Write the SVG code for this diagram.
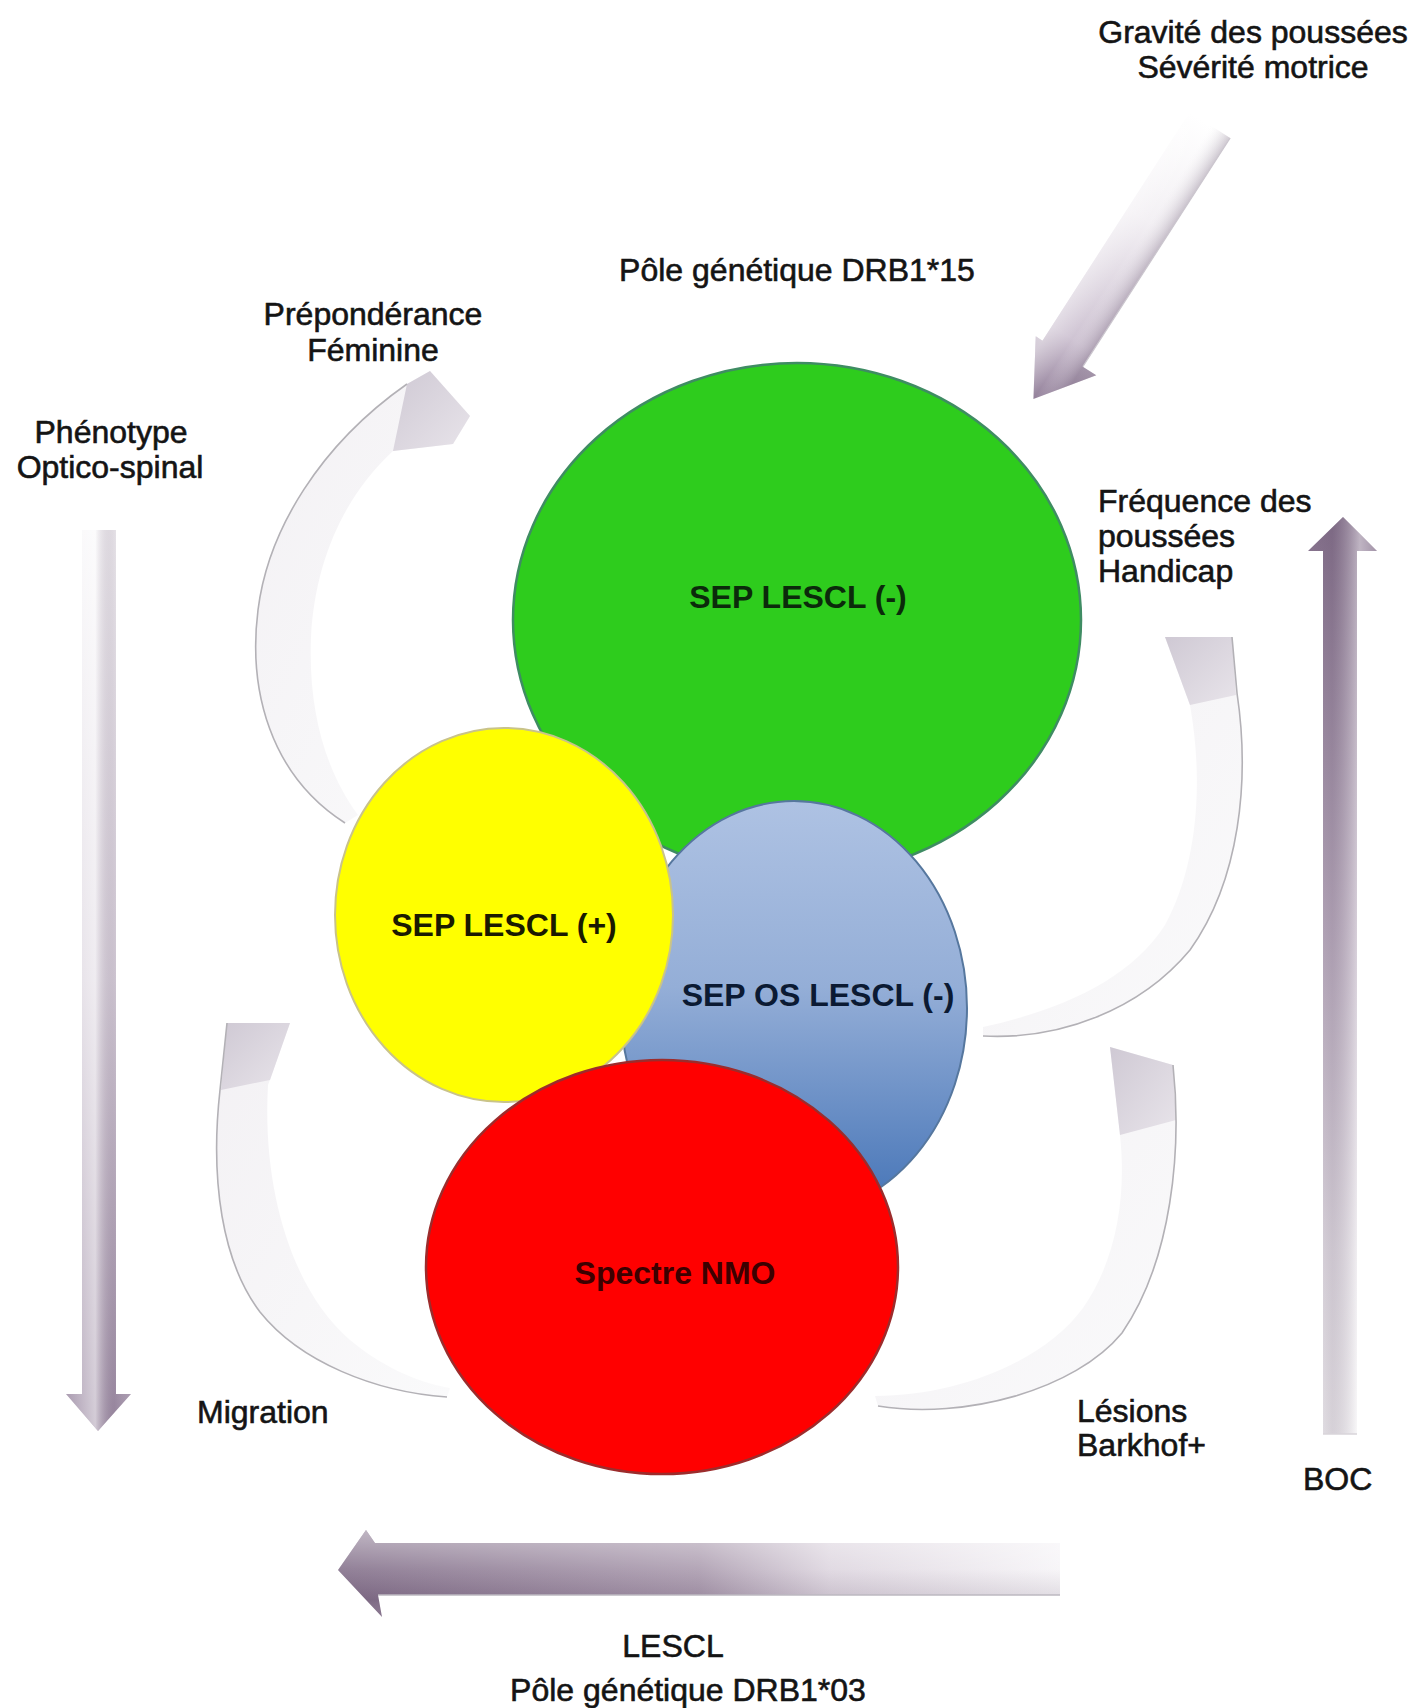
<svg xmlns="http://www.w3.org/2000/svg" width="1428" height="1708" viewBox="0 0 1428 1708">
<defs>
  <linearGradient id="gBlue" x1="0" y1="0" x2="0" y2="1">
    <stop offset="0" stop-color="#aec2e3"/>
    <stop offset="0.45" stop-color="#94aed7"/>
    <stop offset="1" stop-color="#4473b6"/>
  </linearGradient>
  <linearGradient id="gDiag" gradientUnits="userSpaceOnUse" x1="0" y1="0" x2="326" y2="0">
    <stop offset="0" stop-color="#ffffff"/>
    <stop offset="0.35" stop-color="#f3f0f4"/>
    <stop offset="0.78" stop-color="#cfc4d3"/>
    <stop offset="1" stop-color="#93809a"/>
  </linearGradient>
  <linearGradient id="gDiagX" gradientUnits="userSpaceOnUse" x1="0" y1="-24" x2="0" y2="24">
    <stop offset="0" stop-color="#5e4a66" stop-opacity="0.3"/>
    <stop offset="0.5" stop-color="#ffffff" stop-opacity="0"/>
    <stop offset="1" stop-color="#ffffff" stop-opacity="0.4"/>
  </linearGradient>
  <linearGradient id="gDown" gradientUnits="userSpaceOnUse" x1="0" y1="530" x2="0" y2="1431">
    <stop offset="0" stop-color="#f8f7f9"/>
    <stop offset="0.5" stop-color="#dcd5df"/>
    <stop offset="1" stop-color="#9d8ca4"/>
  </linearGradient>
  <linearGradient id="gDownX" gradientUnits="userSpaceOnUse" x1="66" y1="0" x2="131" y2="0">
    <stop offset="0" stop-color="#ffffff" stop-opacity="0.1"/>
    <stop offset="0.45" stop-color="#ffffff" stop-opacity="0.55"/>
    <stop offset="0.75" stop-color="#6a5570" stop-opacity="0.15"/>
    <stop offset="1" stop-color="#ffffff" stop-opacity="0.1"/>
  </linearGradient>
  <linearGradient id="gUp" gradientUnits="userSpaceOnUse" x1="0" y1="517" x2="0" y2="1434">
    <stop offset="0" stop-color="#87738e"/>
    <stop offset="0.45" stop-color="#c4b7c8"/>
    <stop offset="0.8" stop-color="#f1eef2"/>
    <stop offset="1" stop-color="#ffffff"/>
  </linearGradient>
  <linearGradient id="gUpX" gradientUnits="userSpaceOnUse" x1="1308" y1="0" x2="1377" y2="0">
    <stop offset="0" stop-color="#5c4863" stop-opacity="0.1"/>
    <stop offset="0.35" stop-color="#5c4863" stop-opacity="0.25"/>
    <stop offset="0.75" stop-color="#ffffff" stop-opacity="0.45"/>
    <stop offset="1" stop-color="#ffffff" stop-opacity="0.2"/>
  </linearGradient>
  <linearGradient id="gLeft" gradientUnits="userSpaceOnUse" x1="338" y1="0" x2="1060" y2="0">
    <stop offset="0" stop-color="#7f6b86"/>
    <stop offset="0.5" stop-color="#a797ab"/>
    <stop offset="0.68" stop-color="#dcd4de"/>
    <stop offset="1" stop-color="#f6f4f7"/>
  </linearGradient>
  <linearGradient id="gLeftY" gradientUnits="userSpaceOnUse" x1="0" y1="1530" x2="0" y2="1617">
    <stop offset="0" stop-color="#ffffff" stop-opacity="0.5"/>
    <stop offset="0.45" stop-color="#ffffff" stop-opacity="0.15"/>
    <stop offset="0.8" stop-color="#5c4863" stop-opacity="0.15"/>
    <stop offset="1" stop-color="#ffffff" stop-opacity="0"/>
  </linearGradient>
  <linearGradient id="gCurve" x1="0" y1="0" x2="1" y2="1">
    <stop offset="0" stop-color="#f3f1f4"/>
    <stop offset="1" stop-color="#fafafb"/>
  </linearGradient>
  <linearGradient id="gHead" x1="0" y1="0" x2="1" y2="1">
    <stop offset="0" stop-color="#cfc9d4"/>
    <stop offset="1" stop-color="#e8e4ea"/>
  </linearGradient>
</defs>
<style>
  .lbl { font-family: "Liberation Sans", Arial, sans-serif; font-size: 32px; fill: #141414; stroke: #141414; stroke-width: 0.6px; }
  .mid { text-anchor: middle; }
  .nt { font-family: "Liberation Sans", Arial, sans-serif; font-size: 32px; font-weight: bold; text-anchor: middle; }
  .edge { stroke: #b3b1b6; stroke-width: 1.6; fill: none; }
  .body { fill: url(#gCurve); }
  .head { fill: url(#gHead); }
</style>
<rect width="1428" height="1708" fill="#ffffff"/>

<g id="connectors">
  <g id="arrow-diagonal" transform="translate(1210,125) rotate(122.8)">
    <polygon points="0,-24 272,-24 272,-40 326,0 272,32 272,24 0,24" fill="url(#gDiag)"/>
    <polygon points="0,-24 272,-24 272,-40 326,0 272,32 272,24 0,24" fill="url(#gDiagX)"/>
    <line x1="0" y1="-24" x2="272" y2="-24" stroke="#cbc6ce" stroke-width="1.2"/>
  </g>
  <g id="arrow-phenotype">
    <polygon points="82,530 116,530 116,1394 131,1394 98,1431 66,1394 82,1394" fill="url(#gDown)"/>
    <polygon points="82,530 116,530 116,1394 131,1394 98,1431 66,1394 82,1394" fill="url(#gDownX)"/>
  </g>
  <g id="arrow-boc">
    <polygon points="1323,1434 1323,551 1308,551 1343,517 1377,551 1357,551 1357,1434" fill="url(#gUp)"/>
    <polygon points="1323,1434 1323,551 1308,551 1343,517 1377,551 1357,551 1357,1434" fill="url(#gUpX)"/>
    <line x1="1323" y1="1434" x2="1357" y2="1434" stroke="#d8d4da" stroke-width="1.5"/>
  </g>
  <g id="arrow-lescl">
    <polygon points="1060,1543 375,1543 366,1530 338,1570 382,1617 378,1595 1060,1595" fill="url(#gLeft)"/>
    <polygon points="1060,1543 375,1543 366,1530 338,1570 382,1617 378,1595 1060,1595" fill="url(#gLeftY)"/>
    <line x1="378" y1="1595" x2="1060" y2="1595" stroke="#bdb8c0" stroke-width="1.5"/>
  </g>
  <g id="arrow-preponderance">
    <path class="body" d="M 345 823 C 270 775, 248 690, 258 610 C 268 530, 320 445, 407 384 L 430 371 L 470 416 L 453 444 L 393 451 C 345 495, 315 560, 311 637 C 308 710, 325 770, 358 815 Z"/>
    <polygon class="head" points="407,384 430,371 470,416 453,444 393,451"/>
    <path class="edge" d="M 345 823 C 270 775, 248 690, 258 610 C 268 530, 320 445, 407 384"/>
  </g>
  <g id="arrow-frequence">
    <path class="body" d="M 1165 637 L 1232 637 L 1237 693 C 1250 780, 1240 880, 1190 950 C 1140 1010, 1060 1040, 983 1036 L 983 1027 C 1060 1010, 1130 980, 1165 925 C 1195 870, 1205 790, 1190 705 Z"/>
    <polygon class="head" points="1165,637 1232,637 1236,695 1190,705"/>
    <path class="edge" d="M 1232 637 L 1237 693 C 1250 780, 1240 880, 1190 950 C 1140 1010, 1060 1040, 983 1036"/>
  </g>
  <g id="arrow-lesions">
    <path class="body" d="M 1110 1047 L 1173 1065 C 1182 1150, 1172 1260, 1122 1333 C 1075 1390, 965 1420, 878 1406 L 875 1396 C 960 1396, 1045 1360, 1083 1308 C 1115 1262, 1127 1200, 1120 1135 Z"/>
    <polygon class="head" points="1110,1047 1173,1065 1176,1120 1120,1135"/>
    <path class="edge" d="M 1173 1065 C 1182 1150, 1172 1260, 1122 1333 C 1075 1390, 965 1420, 878 1406"/>
  </g>
  <g id="arrow-migration">
    <path class="body" d="M 227 1023 L 290 1023 L 268 1085 C 262 1190, 292 1290, 350 1340 C 380 1365, 415 1382, 450 1388 L 447 1397 C 375 1392, 300 1362, 260 1312 C 222 1262, 210 1180, 220 1090 Z"/>
    <polygon class="head" points="227,1023 290,1023 270,1080 221,1090"/>
    <path class="edge" d="M 227 1023 L 220 1090 C 210 1180, 222 1262, 260 1312 C 300 1362, 375 1392, 447 1397"/>
  </g>
</g>

<g id="node-sep-lescl-neg">
  <ellipse cx="797" cy="620" rx="284" ry="257" fill="#2ecc1d" stroke="#3f8c63" stroke-width="2.5"/>
  <text class="nt" x="798" y="608" fill="#0b2a0b">SEP LESCL (-)</text>
</g>
<g id="node-sep-os-lescl-neg">
  <ellipse cx="794" cy="1008" rx="173" ry="207" fill="url(#gBlue)" stroke="#56779e" stroke-width="2"/>
  <text class="nt" x="818" y="1006" fill="#0b1a33">SEP OS LESCL (-)</text>
</g>
<g id="node-sep-lescl-pos">
  <ellipse cx="504" cy="915" rx="169" ry="187" fill="#ffff00" stroke="#c9c38a" stroke-width="2"/>
  <text class="nt" x="504" y="936" fill="#1a1a00">SEP LESCL (+)</text>
</g>
<g id="node-spectre-nmo">
  <ellipse cx="662" cy="1267" rx="236" ry="207" fill="#ff0000" stroke="#9c2c2c" stroke-width="2.5"/>
  <text class="nt" x="675" y="1284" fill="#3c0000">Spectre NMO</text>
</g>

<g id="labels">
  <text class="lbl mid" x="1253" y="43">Gravité des poussées</text>
  <text class="lbl mid" x="1253" y="78">Sévérité motrice</text>
  <text class="lbl mid" x="797" y="281">Pôle génétique DRB1*15</text>
  <text class="lbl mid" x="373" y="325">Prépondérance</text>
  <text class="lbl mid" x="373" y="361">Féminine</text>
  <text class="lbl mid" x="111" y="443">Phénotype</text>
  <text class="lbl mid" x="110" y="478">Optico-spinal</text>
  <text class="lbl" x="1098" y="512">Fréquence des</text>
  <text class="lbl" x="1098" y="547">poussées</text>
  <text class="lbl" x="1098" y="582">Handicap</text>
  <text class="lbl" x="197" y="1423">Migration</text>
  <text class="lbl" x="1077" y="1422">Lésions</text>
  <text class="lbl" x="1077" y="1456">Barkhof+</text>
  <text class="lbl" x="1303" y="1490">BOC</text>
  <text class="lbl mid" x="673" y="1657">LESCL</text>
  <text class="lbl mid" x="688" y="1701">Pôle génétique DRB1*03</text>
</g>
</svg>
